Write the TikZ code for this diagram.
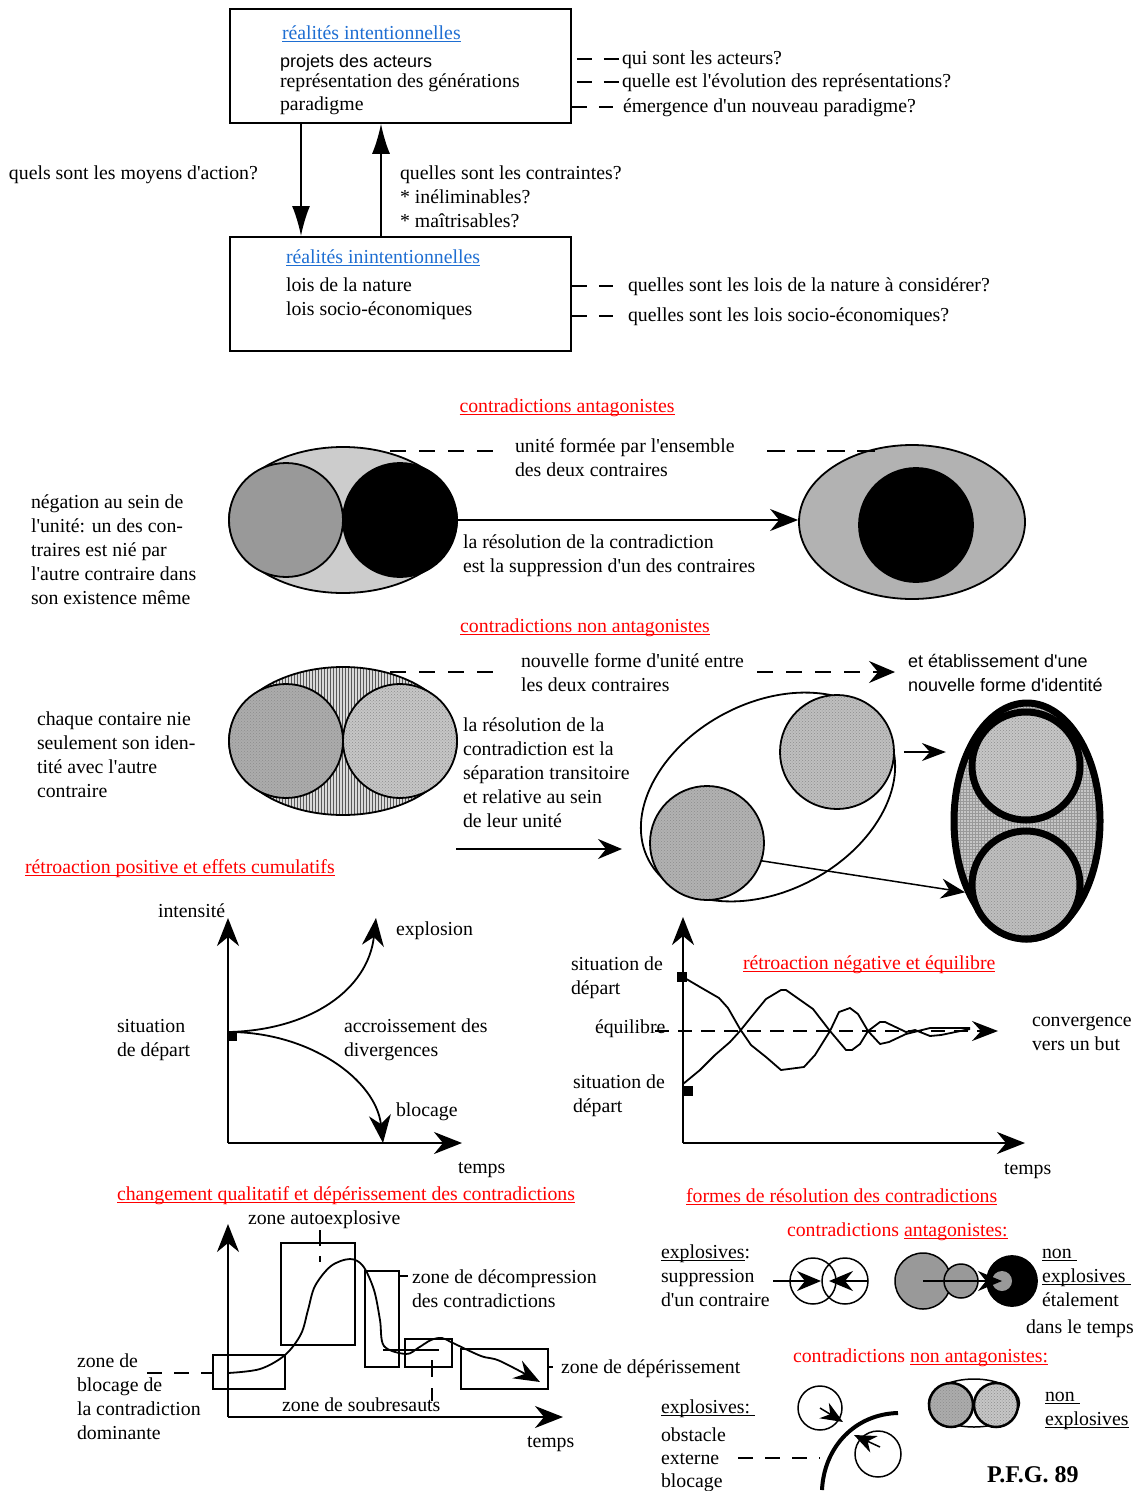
\documentclass[tikz,border=0pt]{standalone}
\usepackage{fontspec}
\setmainfont{Liberation Serif}[Ligatures=TeXOff]
\newfontfamily\arialfam{Liberation Sans}[Ligatures=TeXOff]
\usetikzlibrary{arrows.meta,shapes.geometric,patterns,calc}

\definecolor{tblue}{RGB}{30,110,210}
\definecolor{tred}{RGB}{255,0,0}

% underline drawn as a rule in the current colour
\newcommand\undl[1]{\setbox0\hbox{#1}\rlap{\rule[-3pt]{\wd0}{1pt}}\box0}

\tikzset{
  txt/.style={anchor=base west, inner sep=0pt, outer sep=0pt, font=\fontsize{19.8pt}{24pt}\selectfont, align=left},
  sans/.style={txt, font=\arialfam\fontsize{18pt}{24pt}\selectfont},
  rtitle/.style={txt, text=tred},
  ln/.style={line width=1.8pt},
  lead/.style={line width=1.8pt, dash pattern=on 15pt off 12pt},
  boxn/.style={draw, line width=1.8pt, inner sep=0pt, anchor=north west, minimum width=341pt, minimum height=114pt},
  bigtri/.style={line width=1.8pt, -{Latex[length=30pt,width=18pt]}},
  arr/.style={line width=1.8pt, -{Stealth[length=24pt,width=20pt,inset=8pt]}},
  axis/.style={line width=2.2pt, -{Stealth[length=28pt,width=22pt,inset=9pt]}},
  disc/.style={circle, draw, line width=1.8pt, inner sep=0pt, minimum size=#1},
  oval/.style={ellipse, draw, line width=1.8pt, inner sep=0pt},
  dotfill/.style={preaction={fill=#1}, pattern=crosshatch dots, pattern color=black!45},
  sq/.style={fill=black, inner sep=0pt, minimum size=9pt},
}

\begin{document}
\begin{tikzpicture}[x=1pt,y=-1pt]
\useasboundingbox (0,0) rectangle (1138,1491);

% Multi-line labels are placed by the baseline of their last line.

% ---------- intentional / unintentional realities ----------
\node[boxn] (rint) at (229,8) {};
\node[txt, text=tblue] (rinth) at (282,39) {\undl{réalités intentionnelles}};
\node[sans] (rint1) at (280,67) {projets des acteurs};
\node[txt] (rint2) at (280,87) {représentation des générations};
\node[txt] (rint3) at (280,110) {paradigme};

\node[boxn] (rinin) at (229,236) {};
\node[txt, text=tblue] (rininh) at (286,263) {\undl{réalités inintentionnelles}};
\node[txt] (rinin1) at (286,291) {lois de la nature};
\node[txt] (rinin2) at (286,315) {lois socio-économiques};

\draw[bigtri] ($(rint.south west)+(72,0)$) -- ($(rinin.north west)+(72,0)$);
\draw[bigtri] ($(rinin.north west)+(152,0)$) -- ($(rint.south west)+(152,0)$);

\node[txt] (qmoy) at (9,179) {quels sont les moyens d'action?};
\node[txt] (qcon) at (400,227) {quelles sont les contraintes?\\* inéliminables?\\* maîtrisables?};

\node[txt] (q1) at (622,64) {qui sont les acteurs?};
\node[txt] (q2) at (622,87) {quelle est l'évolution des représentations?};
\node[txt] (q3) at (623,112) {émergence d'un nouveau paradigme?};
\node[txt] (q4) at (628,291) {quelles sont les lois de la nature à considérer?};
\node[txt] (q5) at (628,321) {quelles sont les lois socio-économiques?};

\draw[lead] ($(rint.east |- q1.west)+(5,0)$) -- ($(q1.west)+(-2,0)$);
\draw[lead] ($(rint.east |- q2.west)+(5,0)$) -- ($(q2.west)+(-2,0)$);
\draw[lead] (rint.east |- q3.west) -- ($(q3.west)+(-10,0)$);
\draw[lead] (rinin.east |- q4.west) -- ($(q4.west)+(-15,0)$);
\draw[lead] (rinin.east |- q5.west) -- ($(q5.west)+(-15,0)$);

% ---------- antagonistic contradictions ----------
\node[rtitle, anchor=base] (tant) at (567,412) {\undl{contradictions antagonistes}};

\node[oval, fill=gray!40, minimum width=228pt, minimum height=146pt] (ea) at (343,520) {};
\node[disc=114pt, fill=gray!80] (ca1) at (286,520) {};
\node[disc=114pt, fill=black] (ca2) at (400,520) {};

\node[oval, fill=gray!60, minimum width=226pt, minimum height=154pt] (eb) at (912,522) {};
\node[disc=114pt, fill=black] (cb1) at (916,525) {};

\node[txt] (tunit) at (515,476) {unité formée par l'ensemble\\des deux contraires};
\coordinate (du1) at (390,451);
\coordinate (du2) at (500,451);
\coordinate (du3) at (767,451);
\coordinate (du4) at (880,451);
\draw[lead, dash pattern=on 16pt off 13pt] (du1) -- (du2);
\draw[lead, dash pattern=on 18pt off 12pt] (du3) -- (du4);

\draw[arr, -{Stealth[length=28pt,width=22pt,inset=9pt]}] (ea.east) -- (ea.east -| eb.west);
\node[txt] (tres1) at (463,572) {la résolution de la contradiction\\est la suppression d'un des contraires};
\node[txt] (tneg) at (31,604) {négation au sein de\\l'unité: un des con-\\traires est nié par\\l'autre contraire dans\\son existence même};

% ---------- non-antagonistic contradictions ----------
\node[rtitle, anchor=base] (tnant) at (585,632) {\undl{contradictions non antagonistes}};

\node[oval, preaction={fill=gray!30}, pattern=vertical lines, pattern color=black!65, minimum width=228pt, minimum height=148pt] (en) at (343,741) {};
\node[disc=114pt, dotfill=gray!65] (cn1) at (286,741) {};
\node[disc=114pt, dotfill=gray!45] (cn2) at (400,741) {};

\node[txt] (tnouv) at (521,691) {nouvelle forme d'unité entre\\les deux contraires};
\node[sans] (tetab) at (908,691) {et établissement d'une\\nouvelle forme d'identité};
\coordinate (dn1) at (390,672);
\coordinate (dn2) at (495,672);
\coordinate (dn3) at (757,672);
\coordinate (dn4) at (895,672);
\draw[lead, dash pattern=on 16pt off 13pt] (dn1) -- (dn2);
\draw[lead, dash pattern=on 16pt off 13pt, -{Stealth[length=26pt,width=22pt,inset=9pt]}] (dn3) -- (dn4);

\node[txt] (tchaq) at (37,797) {chaque contaire nie\\seulement son iden-\\tité avec l'autre\\contraire};
\node[txt] (tres2) at (463,827) {la résolution de la\\contradiction est la\\séparation transitoire\\et relative au sein\\de leur unité};

\coordinate (ar1) at (456,849);
\coordinate (ar2) at (622,849);
\draw[arr] (ar1) -- (ar2);

\node[oval, rotate=28, minimum width=270pt, minimum height=188pt] (es) at (768,797) {};
\node[disc=114pt, dotfill=gray!50] (cs1) at (837,752) {};
\node[disc=114pt, dotfill=gray!60] (cs2) at (707,843) {};

\node[ellipse, draw, line width=7pt, inner sep=0pt, minimum width=146pt, minimum height=236pt, preaction={fill=gray!45}, pattern=grid, pattern color=black!40] (et) at (1027,821) {};
\node[circle, draw, line width=7pt, inner sep=0pt, minimum size=108pt, dotfill=gray!45] (ct1) at (1026,766) {};
\node[circle, draw, line width=7pt, inner sep=0pt, minimum size=108pt, dotfill=gray!50] (ct2) at (1026,885) {};

\draw[arr, -{Stealth[length=24pt,width=18pt,inset=8pt]}] ($(cs1.east)+(9,0)$) -- ($(cs1.east)+(51,0)$);
\draw[arr, line width=1.5pt] (cs2.-18) -- (et.229);

% ---------- positive feedback ----------
\node[rtitle] (tpos) at (25,873) {\undl{rétroaction positive et effets cumulatifs}};
\coordinate (o1) at (228,1143);
\coordinate (y1) at (228,918);
\coordinate (x1) at (462,1143);
\draw[axis] (o1) -- (y1);
\draw[axis] (o1) -- (x1);
\node[sq] (s1) at (232.5,1036.5) {};
\coordinate (p1) at (229,1032);
\coordinate (pe) at (376,918);
\coordinate (pb) at (383,1143);
\draw[axis, line width=1.8pt] (p1) .. controls (310,1030) and (368,990) .. (pe);
\draw[axis, line width=1.8pt] (p1) .. controls (310,1032) and (376,1080) .. (pb);

\node[txt] (lint) at (158,917) {intensité};
\node[txt] (lexp) at (396,935) {explosion};
\node[txt] (lsit) at (117,1056) {situation\\de départ};
\node[txt] (lacc) at (344,1056) {accroissement des\\divergences};
\node[txt] (lblo) at (396,1116) {blocage};
\node[txt] (ltps1) at (458,1173) {temps};

% ---------- negative feedback ----------
\coordinate (o2) at (683,1143);
\coordinate (y2) at (683,917);
\coordinate (x2) at (1025,1143);
\draw[axis] (o2) -- (y2);
\draw[axis] (o2) -- (x2);
\node[sq, minimum size=10pt] (s2) at (682,977) {};
\node[sq, minimum size=10pt] (s3) at (688,1091) {};
\coordinate (eq1) at (655,1031);
\coordinate (eq2) at (998,1031);
\draw[line width=1.8pt, dash pattern=on 14pt off 9pt, -{Stealth[length=26pt,width=20pt,inset=9pt]}] (eq1) -- (eq2);

\draw[ln, line join=round] (683,977) -- (700,987) -- (719,998) -- (728,1008) -- (740,1029) -- (751,1045) -- (766,1057) -- (781,1070) -- (804,1067) -- (815,1055) -- (830,1031) -- (839,1012) -- (850,1008) -- (858,1014) -- (868,1031) -- (880,1044) -- (889,1042) -- (906,1034) -- (930,1028) -- (970,1028);
\draw[ln, line join=round] (683,1084) -- (700,1070) -- (715,1055) -- (730,1042) -- (740,1031) -- (752,1016) -- (766,999) -- (781,990) -- (786,990) -- (813,1009) -- (830,1031) -- (846,1050) -- (852,1050) -- (860,1044) -- (868,1031) -- (880,1022) -- (885,1022) -- (906,1032) -- (915,1030) -- (930,1036) -- (941,1035) -- (970,1029);

\node[rtitle] (tneg2) at (743,969) {\undl{rétroaction négative et équilibre}};
\node[txt] (lsit2) at (571,994) {situation de\\départ};
\node[txt] (lequ) at (595,1033) {équilibre};
\node[txt] (lsit3) at (573,1112) {situation de\\départ};
\node[txt] (lconv) at (1032,1050) {convergence\\vers un but};
\node[txt] (ltps2) at (1004,1174) {temps};

% ---------- qualitative change ----------
\node[rtitle] (tchg) at (117,1200) {\undl{changement qualitatif et dépérissement des contradictions}};
\coordinate (o3) at (228,1417);
\coordinate (y3) at (228,1224);
\coordinate (x3) at (563,1417);
\draw[axis] (o3) -- (y3);
\draw[axis] (o3) -- (x3);

\draw[ln] (213,1355) rectangle (285,1389);
\draw[ln] (281,1243) rectangle (355,1345);
\draw[ln] (365,1271) rectangle (399,1367);
\draw[ln] (405,1339) rectangle (452,1367);
\draw[ln] (461,1349) rectangle (548,1389);

\draw[ln, -{Stealth[length=26pt,width=20pt,inset=9pt]}] plot[smooth, tension=0.55] coordinates {(228,1373) (260,1369) (285,1355) (301,1334) (308,1310) (315,1286) (331,1266) (350,1259) (363,1266) (374,1290) (380,1320) (384,1346) (406,1354) (418,1348) (431,1340) (442,1338) (453,1343) (481,1356) (500,1361) (540,1382)};
\draw[ln] (383,1350) -- (439,1350);

\draw[ln, dash pattern=on 16pt off 10pt] (320,1230) -- (320,1262);
\draw[ln, dash pattern=on 17pt off 11pt] (432,1360) -- (432,1401);
\draw[ln] (399,1276) -- (408,1276);
\draw[ln] (548,1367) -- (553,1367);

\node[txt] (lzae) at (248,1224) {zone autoexplosive};
\node[txt] (lzdc) at (412,1307) {zone de décompression\\des contradictions};
\node[txt] (lzdp) at (561,1373) {zone de dépérissement};
\node[txt] (lzsb) at (282,1411) {zone de soubresauts};
\node[txt] (lzbl) at (77,1439) {zone de\\blocage de\\la contradiction\\dominante};
\node[txt] (ltps3) at (527,1447) {temps};
\coordinate (lzb1) at (147,1373);
\draw[lead] (lzb1) -- (213,1373);

% ---------- forms of resolution ----------
\node[rtitle] (tform) at (686,1202) {\undl{formes de résolution des contradictions}};
\node[rtitle] (tfa) at (787,1236) {contradictions \undl{antagonistes:}};
\node[txt] (lexa) at (661,1306) {\undl{explosives}:\\suppression\\d'un contraire};
\node[txt] (lnea) at (1042,1306) {\undl{non\ }\\\undl{explosives\ }\\étalement};
\node[txt] (ldlt) at (1026,1333) {dans le temps};

\node[disc=46pt, line width=1.5pt] (ce1) at (813,1281) {};
\node[disc=46pt, line width=1.5pt] (ce2) at (845,1281) {};
\coordinate (ea1) at (773,1281);
\coordinate (ea2) at (868,1281);
\draw[line width=1.5pt, -{Stealth[length=24pt,width=20pt,inset=8pt]}] (ea1) -- ($(ce1.center)+(8,0)$);
\draw[line width=1.5pt, -{Stealth[length=24pt,width=20pt,inset=8pt]}] (ea2) -- ($(ce2.center)+(-16,0)$);

\node[disc=56pt, fill=gray!80, line width=1.5pt] (cg1) at (923,1281) {};
\node[disc=34pt, fill=gray!80, line width=1.5pt] (cg2) at (961,1281) {};
\node[disc=50pt, fill=black] (cgb) at (1012,1281) {};
\node[circle, fill=gray!80, inner sep=0pt, minimum size=20pt] (cgs) at (1002,1281) {};
\draw[line width=1.5pt, -{Stealth[length=24pt,width=20pt,inset=8pt]}] (cg1.center) -- (cgs.center);

\node[rtitle] (tfn) at (793,1362) {contradictions \undl{non antagonistes:}};
\node[txt] (lexn) at (661,1413) {\undl{explosives:\ }};
\node[txt, font=\fontsize{19.8pt}{23pt}\selectfont] (lobs) at (661,1487) {obstacle\\externe\\blocage};
\node[txt] (lnen) at (1045,1425) {\undl{non\ }\\\undl{explosives}};

\node[disc=44pt, line width=1.5pt] (co1) at (820,1408) {};
\node[disc=46pt, line width=1.5pt] (co2) at (878,1454) {};
\draw[line width=1.5pt, -{Stealth[length=22pt,width=18pt,inset=7pt]}] (co1.center) -- ($(co1.center)+(23,14)$);
\draw[line width=1.5pt, -{Stealth[length=22pt,width=18pt,inset=7pt]}] ($(co2.center)+(2,-7)$) -- ($(co2.center)+(-24,-19)$);
\coordinate (obA) at (822,1490);
\coordinate (obB) at (898,1413);
\draw[line width=4pt] (obA) .. controls (824,1447) and (855,1414) .. (obB);
\coordinate (lob1) at (738,1458);
\draw[lead] (lob1) -- (820,1458);

\node[oval, fill=white, line width=1.5pt, minimum width=91pt, minimum height=48pt] (eg) at (974,1403) {};
\node[disc=44pt, line width=2.5pt, dotfill=gray!65] (cn3) at (951,1405) {};
\node[disc=44pt, line width=2.5pt, dotfill=gray!45] (cn4) at (996,1405) {};

\node[txt, font=\bfseries\fontsize{24pt}{24pt}\selectfont] (pfg) at (987,1482) {P.F.G. 89};

\end{tikzpicture}
\end{document}
